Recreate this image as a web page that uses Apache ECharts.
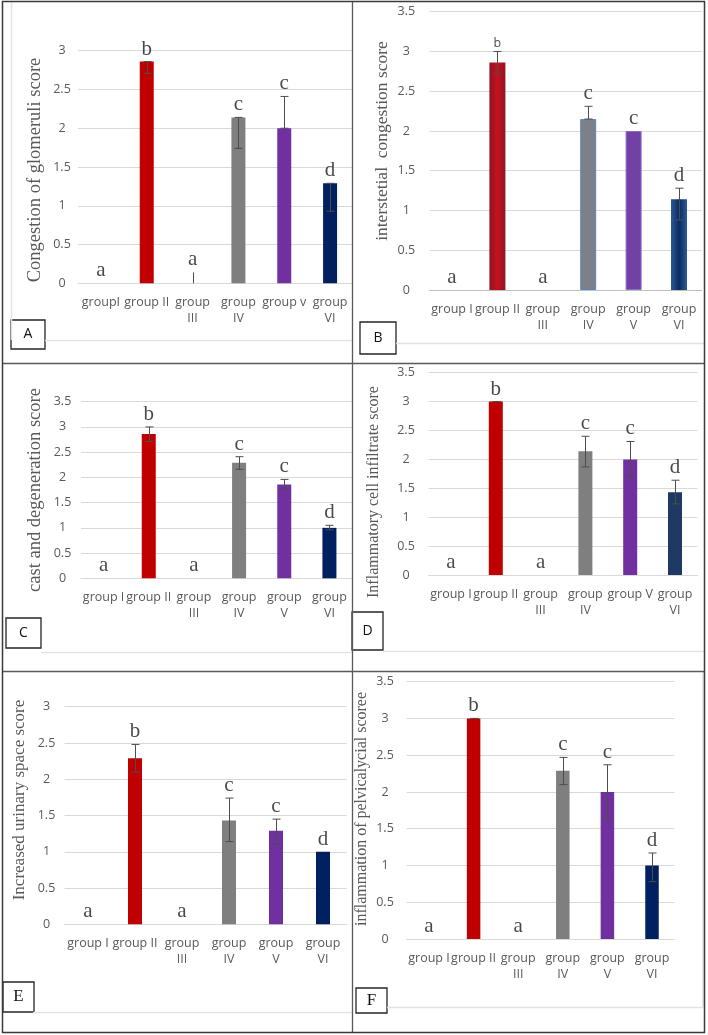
<!DOCTYPE html>
<html>
<head>
<meta charset="utf-8">
<script src="https://cdn.jsdelivr.net/npm/echarts@6/dist/echarts.min.js"></script>
<style>
  html, body { margin: 0; padding: 0; background: #fff; }
  #chart { width: 708px; height: 1035px; }
</style>
</head>
<body>
<div id="chart"></div>
<script>
// category labels, wrapped as in the figure
const catsA = ["groupI", "group II", "group\nIII", "group\nIV", "group v", "group\nVI"];
const catsStd = ["group I", "group II", "group\nIII", "group\nIV", "group\nV", "group\nVI"];
const catsD = ["group I", "group II", "group\nIII", "group\nIV", "group V", "group\nVI"];
const letters = ["a", "b", "a", "c", "c", "d"];

// A - congestion of glomeruli
const valuesA = [0, 2.86, 0, 2.14, 2.0, 1.29];
const errLowA = [null, 2.71, 0, 1.74, 2.0, 0.93];
const errHighA = [null, 2.86, 0.14, 2.14, 2.41, 1.29];

// B - interstitial congestion
const valuesB = [0, 2.86, 0, 2.15, 2.0, 1.14];
const errLowB = [null, 2.72, null, 2.15, null, 0.88];
const errHighB = [null, 3.0, null, 2.31, null, 1.28];

// C - cast and degeneration
const valuesC = [0, 2.86, 0, 2.29, 1.86, 1.0];
const errLowC = [null, 2.71, null, 2.16, 1.77, 0.96];
const errHighC = [null, 3.0, null, 2.41, 1.96, 1.05];

// D - inflammatory cell infiltrate
const valuesD = [0, 3.0, 0, 2.14, 2.0, 1.43];
const errLowD = [null, 3.0, null, 1.87, 1.7, 1.23];
const errHighD = [null, 3.0, null, 2.4, 2.31, 1.64];

// E - increased urinary space
const valuesE = [0, 2.29, 0, 1.43, 1.29, 1.0];
const errLowE = [null, 2.1, null, 1.14, 1.11, null];
const errHighE = [null, 2.48, null, 1.74, 1.45, null];

// F - inflammation of pelvicalycial
const valuesF = [0, 3.0, 0, 2.29, 2.0, 1.0];
const errLowF = [null, 3.0, null, 2.1, 1.63, 0.78];
const errHighF = [null, 3.0, null, 2.47, 2.37, 1.17];

const plainColors = ["#C00000", "#C00000", "#7F7F7F", "#7F7F7F", "#7030A0", "#002060"];

function hGrad(edge, mid) {
  return new echarts.graphic.LinearGradient(0, 0, 1, 0, [
    { offset: 0, color: edge },
    { offset: 0.5, color: mid },
    { offset: 1, color: edge },
  ]);
}

const colorsB = [
  "#C00000",
  hGrad("#8e1526", "#c8101c"),
  "#7F7F7F",
  { color: "#7b8089", border: "#5b87c0" },
  { color: "#7142a6", border: "#8a6cc4" },
  hGrad("#2c5a98", "#0b2b60"),
];

const panels = [
  {
    cats: catsA, values: valuesA, lo: errLowA, hi: errHighA, max: 3,
    title: "Congestion of glomeruli score", titleSize: 18.5, titlePos: [35, 170],
    grid: { left: 78, top: 50.7, width: 275, height: 232.6 },
    labelMargin: 16, barWidth: 14, colors: plainColors,
  },
  {
    cats: catsStd, values: valuesB, lo: errLowB, hi: errHighB, max: 3.5,
    title: "interstetial  congestion score", titleSize: 17.5, titlePos: [382, 141],
    grid: { left: 429.3, top: 11.7, width: 272.4, height: 278.3 },
    labelMargin: 23, barWidth: 16, colors: colorsB, smallB: true, axisColor: "#bfbfbf",
  },
  {
    cats: catsStd, values: valuesC, lo: errLowC, hi: errHighC, max: 3.5,
    title: "cast and degeneration score", titleSize: 18.5, titlePos: [35, 490],
    grid: { left: 81, top: 401.7, width: 271, height: 176.6 },
    labelMargin: 18.5, barWidth: 14, colors: plainColors,
  },
  {
    cats: catsD, values: valuesD, lo: errLowD, hi: errHighD, max: 3.5,
    title: "Inflammatory cell infiltrate score", titleSize: 16, titlePos: [374, 492],
    grid: { left: 428.6, top: 372.7, width: 268.8, height: 202.3 },
    labelMargin: 22.6, barWidth: 14,
    colors: ["#C00000", "#C00000", "#7F7F7F", "#7F7F7F", "#7030A0", "#1F3864"],
  },
  {
    cats: catsStd, values: valuesE, lo: errLowE, hi: errHighE, max: 3,
    title: "Increased urinary space score", titleSize: 17, titlePos: [20, 800],
    grid: { left: 64.5, top: 706.7, width: 282, height: 217.6 },
    labelMargin: 18, barWidth: 14, colors: plainColors,
  },
  {
    cats: catsStd, values: valuesF, lo: errLowF, hi: errHighF, max: 3.5,
    title: "inflammation of pelvicalycial scoree", titleSize: 16, titlePos: [362, 809],
    grid: { left: 406.7, top: 681.7, width: 267.6, height: 257.3 },
    labelMargin: 21.7, barWidth: 13.5, colors: plainColors,
  },
];

const grids = [];
const xAxes = [];
const yAxes = [];
const series = [];
const titles = [];

panels.forEach((p, i) => {
  grids.push(Object.assign({ outerBoundsMode: "none" }, p.grid));

  xAxes.push({
    type: "category",
    gridIndex: i,
    data: p.cats,
    axisTick: { show: false },
    axisLine: { lineStyle: { color: p.axisColor || "#d9d9d9", width: 1 } },
    axisLabel: {
      interval: 0,
      color: "#595959",
      fontFamily: "Open Sans",
      fontSize: 12.5,
      lineHeight: 16,
      margin: 11,
    },
  });

  yAxes.push({
    type: "value",
    gridIndex: i,
    min: 0,
    max: p.max,
    interval: 0.5,
    axisLine: { show: false },
    axisTick: { show: false },
    splitLine: { lineStyle: { color: "#d9d9d9", width: 1 } },
    axisLabel: {
      align: "center",
      margin: p.labelMargin,
      color: "#595959",
      fontFamily: "Open Sans",
      fontSize: 12.5,
    },
  });

  // y title as rotated text so it sits where the original puts it
  titles.push({
    type: "text",
    silent: true,
    x: p.titlePos[0],
    y: p.titlePos[1],
    rotation: Math.PI / 2,
    style: {
      text: p.title,
      align: "center",
      verticalAlign: "middle",
      textAlign: "center",
      textVerticalAlign: "middle",
      fontFamily: "Liberation Serif",
      fontSize: p.titleSize,
      fill: "#595959",
    },
  });

  series.push({
    type: "bar",
    xAxisIndex: i,
    yAxisIndex: i,
    barWidth: p.barWidth,
    silent: true,
    data: p.values.map((v, j) => {
      const c = p.colors[j];
      if (c && c.border) {
        return { value: v, itemStyle: { color: c.color, borderColor: c.border, borderWidth: 1 } };
      }
      return { value: v, itemStyle: { color: c } };
    }),
  });

  const errData = [];
  p.lo.forEach((lo, j) => {
    if (lo !== null) errData.push([j, lo, p.hi[j]]);
  });

  series.push({
    type: "custom",
    xAxisIndex: i,
    yAxisIndex: i,
    z: 5,
    silent: true,
    data: errData,
    renderItem: (params, api) => {
      const top = api.coord([api.value(0), api.value(2)]);
      const bot = api.coord([api.value(0), api.value(1)]);
      const x = Math.round(top[0]) + 0.5;
      const cap = api.value(1) === 0 ? 0 : 4;
      const style = { stroke: "#4d4d4d", lineWidth: 1 };
      return {
        type: "group",
        children: [
          { type: "line", shape: { x1: x, y1: top[1], x2: x, y2: bot[1] }, style },
          { type: "line", shape: { x1: x - cap, y1: top[1], x2: x + cap, y2: top[1] }, style },
          { type: "line", shape: { x1: x - cap, y1: bot[1], x2: x + cap, y2: bot[1] }, style },
        ],
      };
    },
  });

  series.push({
    type: "scatter",
    xAxisIndex: i,
    yAxisIndex: i,
    symbolSize: 0,
    silent: true,
    z: 10,
    data: letters.map((t, j) => {
      const item = {
        value: [j, Math.max(p.values[j], p.hi[j] || 0)],
        label: { formatter: t },
      };
      if (p.smallB && t === "b") {
        item.label.fontFamily = "Open Sans";
        item.label.fontSize = 12.5;
      }
      return item;
    }),
    label: {
      show: true,
      position: "top",
      distance: 2,
      fontFamily: "Liberation Serif",
      fontSize: 21,
      color: "#1a1a1a",
    },
  });
});

// panel frames and letter boxes
function line(x1, y1, x2, y2, color, w) {
  return { type: "line", silent: true, z: 1, shape: { x1, y1, x2, y2 }, style: { stroke: color, lineWidth: w } };
}

function box(x, y, w, h, t, serif) {
  return {
    type: "group",
    z: 20,
    children: [
      { type: "rect", shape: { x, y, width: w, height: h }, style: { fill: "#fff", stroke: "#262626", lineWidth: 1.3 } },
      {
        type: "text",
        x: x + w / 2,
        y: y + h / 2,
        style: {
          text: t,
          align: "center",
          verticalAlign: "middle",
          textAlign: "center",
          textVerticalAlign: "middle",
          fontFamily: serif ? "Liberation Serif" : "Open Sans",
          fontSize: serif ? 17 : 14,
          fill: "#111",
        },
      },
    ],
  };
}

const graphics = titles.concat([
  line(11.5, 2, 11.5, 340, "#e3e3e3", 1.5),
  line(45, 340.5, 352, 340.5, "#e3e3e3", 1.5),
  line(396, 343.5, 704, 343.5, "#e3e3e3", 1.5),
  line(41, 652.5, 352, 652.5, "#e3e3e3", 1.5),
  line(383, 651.5, 704, 651.5, "#e3e3e3", 1.5),
  line(33, 1012.5, 352, 1012.5, "#e3e3e3", 1.5),
  line(387, 1007.5, 703, 1007.5, "#e3e3e3", 1.5),
  line(703, 672, 703, 1007.5, "#e3e3e3", 1.5),
  line(352.5, 1, 352.5, 1033, "#5a5a5a", 1.3),
  line(2, 363.5, 705, 363.5, "#5a5a5a", 1.3),
  line(2, 671.5, 705, 671.5, "#5a5a5a", 1.3),
  {
    type: "rect",
    silent: true,
    z: 1,
    shape: { x: 2.5, y: 1.5, width: 702, height: 1031 },
    style: { fill: "none", stroke: "#3a3a3a", lineWidth: 1.5 },
  },
  box(11, 320, 34, 29, "A"),
  box(360, 322, 36, 32, "B"),
  box(6, 618, 35, 30, "C"),
  box(352, 612, 31, 38, "D"),
  box(3, 982, 31, 30, "E", true),
  box(356, 988, 31, 25, "F", true),
]);

const chart = echarts.init(document.getElementById("chart"));
chart.setOption({
  animation: false,
  backgroundColor: "#fff",
  grid: grids,
  xAxis: xAxes,
  yAxis: yAxes,
  series: series,
  graphic: graphics,
});
</script>
</body>
</html>
